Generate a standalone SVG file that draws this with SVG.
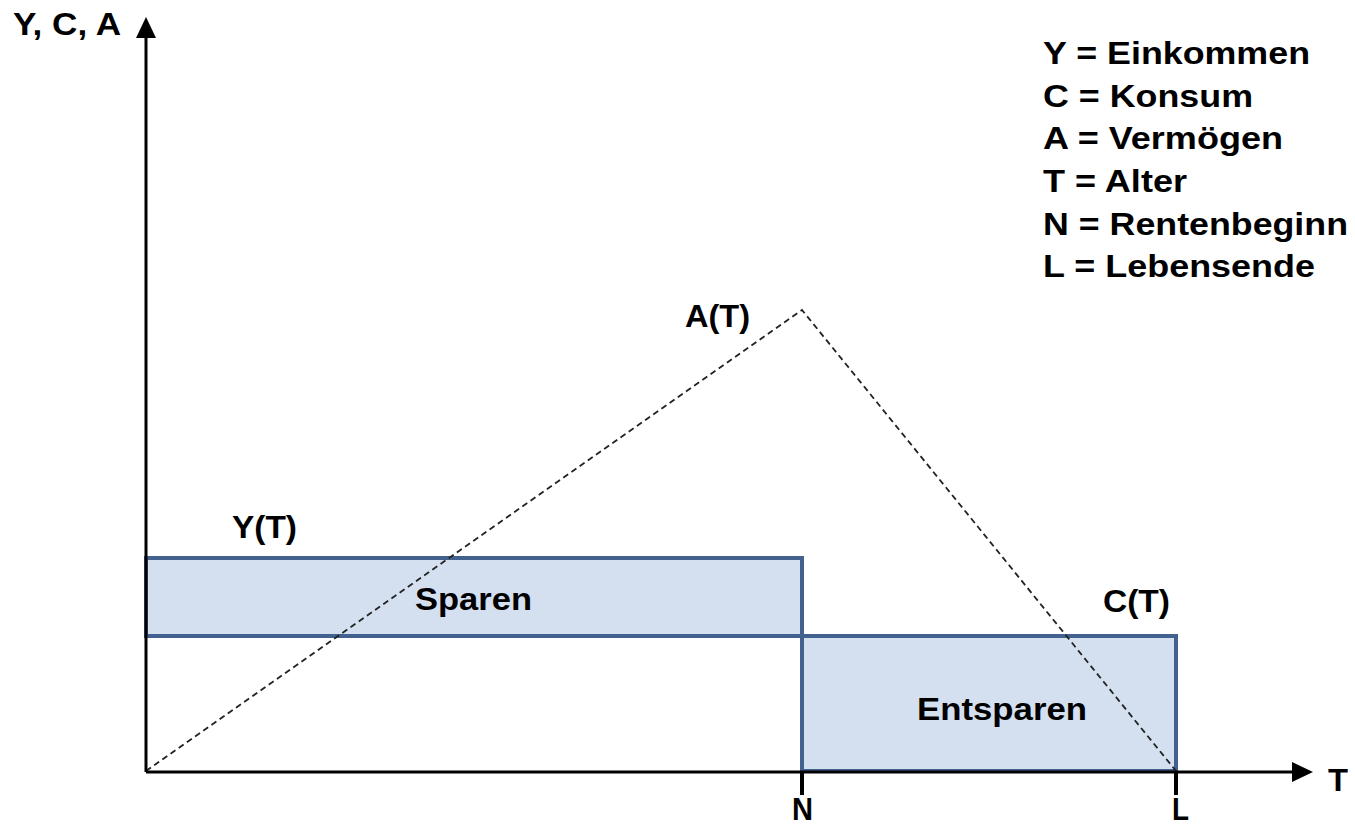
<svg xmlns="http://www.w3.org/2000/svg" width="1355" height="825" viewBox="0 0 1355 825">
<style>
  text { font-family: "Liberation Sans", Arial, sans-serif; font-weight: bold; font-size: 32px; fill: #000; }
  .bar { fill: #d4dff0; stroke: #42618f; stroke-width: 4; }
  .axis { stroke: #000; stroke-width: 3; fill: none; }
  .tick { stroke: #000; stroke-width: 4; }
  .dash { stroke: #222; stroke-width: 1.8; stroke-dasharray: 6 4; fill: none; }
</style>
<rect width="1355" height="825" fill="#fff"/>
<g id="bars">
  <g id="income-bar"><rect class="bar" x="146" y="558" width="656" height="78"/>
    <text x="415" y="610" textLength="117" lengthAdjust="spacingAndGlyphs">Sparen</text></g>
  <g id="consumption-bar"><rect class="bar" x="802" y="636" width="374" height="135"/>
    <text x="917" y="720" textLength="170" lengthAdjust="spacingAndGlyphs">Entsparen</text></g>
</g>
<g id="connectors">
  <path class="dash" d="M146,771 L802,310 L1176,771"/>
  <line class="axis" x1="146" y1="772" x2="146" y2="34"/>
  <polygon points="146,17 136,38 156,38" fill="#000"/>
  <line class="axis" x1="146" y1="772" x2="1296" y2="772"/>
  <polygon points="1313,772 1292,762 1292,782" fill="#000"/>
  <line class="tick" x1="802" y1="772" x2="802" y2="795"/>
  <line class="tick" x1="1176" y1="772" x2="1176" y2="795"/>
</g>
<g id="labels">
  <text x="13" y="35" textLength="108" lengthAdjust="spacingAndGlyphs">Y, C, A</text>
  <text x="232" y="538" textLength="65" lengthAdjust="spacingAndGlyphs">Y(T)</text>
  <text x="685" y="327" textLength="65" lengthAdjust="spacingAndGlyphs">A(T)</text>
  <text x="1103" y="612" textLength="67" lengthAdjust="spacingAndGlyphs">C(T)</text>
  <text x="792" y="820" textLength="21" lengthAdjust="spacingAndGlyphs">N</text>
  <text x="1172" y="820" textLength="17" lengthAdjust="spacingAndGlyphs">L</text>
  <text x="1328" y="791" textLength="20" lengthAdjust="spacingAndGlyphs">T</text>
</g>
<g id="legend">
  <text x="1043" y="64" textLength="267" lengthAdjust="spacingAndGlyphs">Y = Einkommen</text>
  <text x="1043" y="107" textLength="210" lengthAdjust="spacingAndGlyphs">C = Konsum</text>
  <text x="1043" y="149" textLength="240" lengthAdjust="spacingAndGlyphs">A = Vermögen</text>
  <text x="1043" y="192" textLength="144" lengthAdjust="spacingAndGlyphs">T = Alter</text>
  <text x="1043" y="235" textLength="305" lengthAdjust="spacingAndGlyphs">N = Rentenbeginn</text>
  <text x="1043" y="277" textLength="272" lengthAdjust="spacingAndGlyphs">L = Lebensende</text>
</g>
</svg>
